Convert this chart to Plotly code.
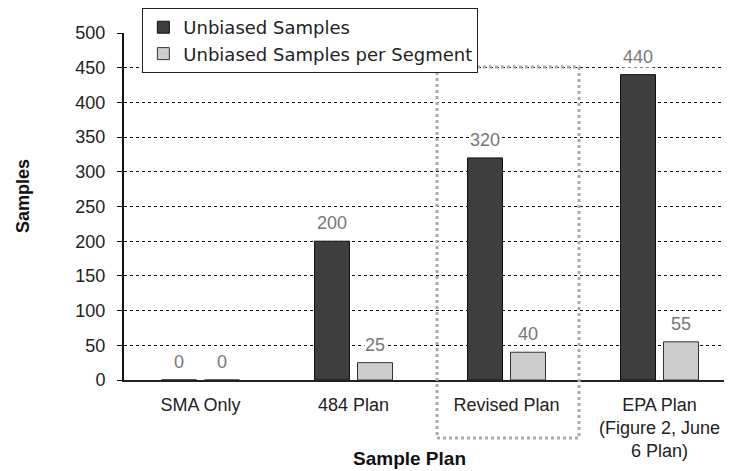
import plotly.graph_objects as go

categories = ["SMA Only", "484 Plan", "Revised Plan", "EPA Plan<br>(Figure 2, June<br>6 Plan)"]
unbiased_samples = [0, 200, 320, 440]
unbiased_per_segment = [0, 25, 40, 55]
y_ticks = [0, 50, 100, 150, 200, 250, 300, 350, 400, 450, 500]

FONT = "Liberation Sans, Arial, sans-serif"

fig = go.Figure()
fig.add_trace(go.Bar(
    name="Unbiased Samples", x=categories, y=unbiased_samples,
    marker=dict(color="#3e3e3e", line=dict(color="#111", width=1)),
))
fig.add_trace(go.Bar(
    name="Unbiased Samples per Segment", x=categories, y=unbiased_per_segment,
    marker=dict(color="#cdcdcd", line=dict(color="#333", width=1)),
))

# value labels above each bar (offset half a group slot left/right)
for series, shift in ((unbiased_samples, -21.5), (unbiased_per_segment, 21.5)):
    for cat, val in zip(categories, series):
        fig.add_annotation(
            x=cat, y=val, xref="x", yref="y", text=str(val), showarrow=False,
            xshift=shift, yshift=7, yanchor="bottom", bgcolor="white",
            font=dict(family=FONT, size=18, color="#777"), borderpad=0,
        )

# axis titles
fig.add_annotation(
    text="<b>Sample Plan</b>", xref="paper", yref="paper", x=0.466, y=-0.225,
    xanchor="center", yanchor="middle", showarrow=False,
    font=dict(family=FONT, size=19, color="#111"),
)
fig.add_annotation(
    text="<b>Samples</b>", xref="paper", yref="paper", x=-0.165, y=0.53,
    xanchor="center", yanchor="middle", showarrow=False, textangle=-90,
    font=dict(family=FONT, size=18, color="#111"),
)

fig.update_layout(
    width=732, height=471,
    # page body adds an 8px offset, so margins are shifted accordingly
    margin=dict(l=116, r=4, t=25, b=99, autoexpand=False),
    paper_bgcolor="white", plot_bgcolor="white",
    barmode="group", bargap=0.438, bargroupgap=0.186,
    font=dict(family=FONT, size=18, color="#222"),
    showlegend=True,
    legend=dict(
        x=0.03, xanchor="left", y=1.072, yanchor="top",
        bgcolor="white", bordercolor="#222", borderwidth=1,
        font=dict(family="DejaVu Sans, sans-serif", size=18, color="#222"),
        itemwidth=30, tracegroupgap=0,
    ),
)
fig.update_yaxes(
    range=[0, 500], tickvals=y_ticks, ticktext=[str(v) for v in y_ticks],
    showgrid=True, gridcolor="#111", griddash="dot", gridwidth=1,
    showline=True, linecolor="#111", linewidth=2,
    ticks="outside", ticklen=5, tickcolor="#111", ticklabelstandoff=8,
    tickfont=dict(family=FONT, size=18, color="#222"),
    zeroline=False,
)
fig.update_xaxes(
    showline=True, linecolor="#222", linewidth=2,
    ticks="", ticklabelstandoff=7,
    tickfont=dict(family=FONT, size=18, color="#222"),
)
fig.add_shape(
    type="rect", xref="x", yref="paper",
    x0=1.546, x1=2.474, y0=-0.167, y1=0.902,
    line=dict(color="#aaa", width=3, dash="dot"), fillcolor="rgba(0,0,0,0)",
)
fig.write_html("out.html")
